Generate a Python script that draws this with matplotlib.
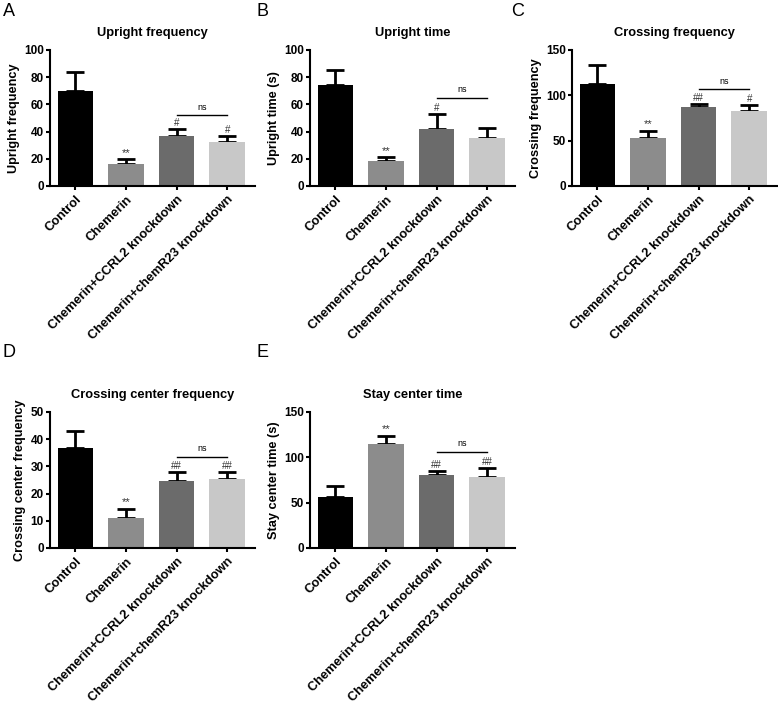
import matplotlib
matplotlib.use("Agg")
import matplotlib.pyplot as plt

plt.rcParams["font.family"] = ["Liberation Sans", "DejaVu Sans"]
plt.rcParams["font.weight"] = "bold"

groups = ["Control", "Chemerin", "Chemerin+CCRL2 knockdown", "Chemerin+chemR23 knockdown"]
colors = ["#000000", "#8c8c8c", "#6b6b6b", "#c8c8c8"]

titles = ["Upright frequency", "Upright time", "Crossing frequency",
          "Crossing center frequency", "Stay center time"]
ylabels = ["Upright frequency", "Upright time (s)", "Crossing frequency",
           "Crossing center frequency", "Stay center time (s)"]
letters = ["A", "B", "C", "D", "E"]

upright_freq = [70, 16, 37, 32]
upright_freq_err = [13.5, 3.5, 5, 4.5]
upright_time = [74, 18.5, 42, 35.5]
upright_time_err = [11.5, 2.5, 11, 7]
crossing_freq = [113, 53, 87, 82.6]
crossing_freq_err = [20, 8, 3, 6.4]
center_freq = [36.8, 11, 24.6, 25.4]
center_freq_err = [6.2, 3.5, 3.2, 2.4]
stay_time = [56, 115, 80, 78.7]
stay_time_err = [12, 9, 4.5, 9.3]

means = [upright_freq, upright_time, crossing_freq, center_freq, stay_time]
errs = [upright_freq_err, upright_time_err, crossing_freq_err, center_freq_err, stay_time_err]
ymax = [100, 100, 150, 50, 150]
ystep = [20, 20, 50, 10, 50]
ns_level = [52, 65, 107, 33.6, 106]
marks = [
    ["", "**", "#", "#"],
    ["", "**", "#", ""],
    ["", "**", "##", "#"],
    ["", "**", "##", "##"],
    ["", "**", "##", "##"],
]

W, H = 778, 704
fig = plt.figure(figsize=(W / 100, H / 100), dpi=100)

# axes boxes in pixels: left, top, right, bottom
boxes = [(50, 50, 255, 186), (310, 50, 515, 186), (572, 50, 777, 186),
         (50, 412, 255, 548), (310, 412, 515, 548)]
# panel letter positions in pixels (left, top)
letter_pos = [(3, 3), (257, 3), (511, 3), (3, 344), (257, 344)]

for i in range(5):
    l, t, r, b = boxes[i]
    ax = fig.add_axes([l / W, 1 - b / H, (r - l) / W, (b - t) / H])
    x = list(range(4))
    ax.bar(x, means[i], width=0.7, color=colors, zorder=2)
    ax.errorbar(x, means[i], yerr=[[0] * 4, errs[i]], fmt="none", ecolor="black",
                elinewidth=2, capsize=6.5, capthick=2, zorder=1)
    for j in range(4):
        if marks[i][j]:
            fs = 8 if marks[i][j] == "**" else 7
            ax.text(j, means[i][j] + errs[i][j] + ymax[i] * 0.01, marks[i][j],
                    ha="center", va="bottom", fontsize=fs, fontweight="normal",
                    color="#333333")
    ax.plot([2, 3], [ns_level[i], ns_level[i]], color="black", lw=1)
    ax.text(2.5, ns_level[i] + ymax[i] * 0.025, "ns", ha="center", va="bottom",
            fontsize=6.5, fontweight="normal")
    ax.set_xlim(-0.5, 3.55)
    ax.set_ylim(0, ymax[i])
    ax.set_yticks(range(0, ymax[i] + 1, ystep[i]))
    ax.set_xticks(x)
    ax.set_xticklabels(groups, rotation=45, ha="right", rotation_mode="anchor",
                       fontweight="bold")
    ax.tick_params(axis="both", width=1.5, length=3, pad=1.5)
    ax.tick_params(axis="y", labelsize=8.5)
    ax.tick_params(axis="x", labelsize=9.3, pad=2.5)
    for s in ["top", "right"]:
        ax.spines[s].set_visible(False)
    for s in ["left", "bottom"]:
        ax.spines[s].set_linewidth(1.5)
    ax.set_ylabel(ylabels[i], fontsize=9.2, fontweight="bold", labelpad=3)
    ax.set_title(titles[i], fontsize=9.3, fontweight="bold", pad=10)
    lx, ly = letter_pos[i]
    fig.text(lx / W, 1 - ly / H, letters[i], fontsize=13,
             fontweight="normal", ha="left", va="top")

fig.savefig("out.png", dpi=100)
